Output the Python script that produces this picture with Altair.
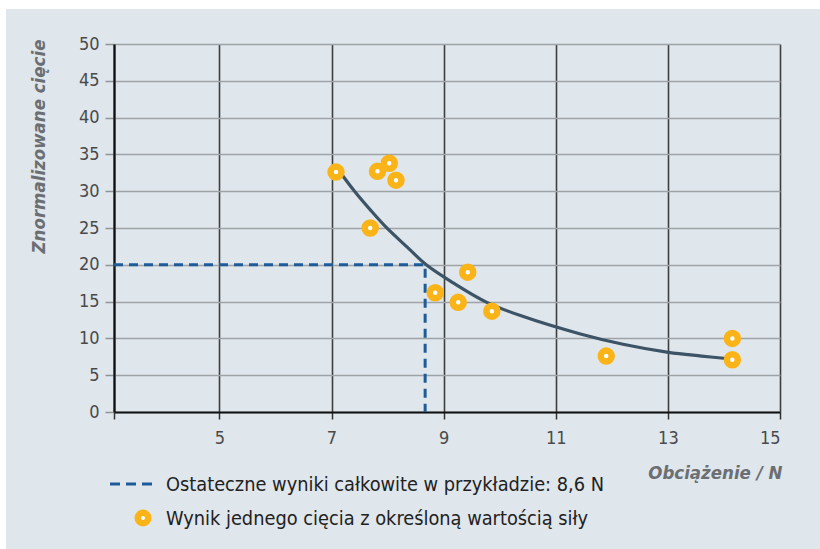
import altair as alt
import pandas as pd

# ---- data ----
curve_x = [7.18, 7.4, 7.7, 8.0, 8.35, 8.69, 9.18, 9.77, 10.37, 11.44, 12.2, 13.01, 13.6, 14.13]
curve_y = [32.3, 30.1, 27.4, 24.9, 22.4, 20.0, 17.5, 14.9, 13.1, 10.6, 9.2, 8.1, 7.6, 7.2]

pts_x = [7.08, 7.82, 8.03, 8.15, 7.69, 9.43, 8.85, 9.26, 9.86, 11.90, 14.15, 14.15]
pts_y = [32.6, 32.7, 33.8, 31.5, 25.0, 19.0, 16.2, 14.9, 13.7, 7.6, 10.0, 7.1]

X_MIN = 3.12
dash_x = [X_MIN, 8.67, 8.67]
dash_y = [20, 20, 0]

x_ticks = [X_MIN, 5, 7, 9, 11, 13, 15]
y_ticks = [0, 5, 10, 15, 20, 25, 30, 35, 40, 45, 50]

x_title = "Obciążenie / N"
y_title = "Znormalizowane cięcie"
legend_labels = ["Ostateczne wyniki całkowite w przykładzie: 8,6 N",
                 "Wynik jednego cięcia z określoną wartością siły"]

# ---- style ----
FONT = "'Liberation Sans Narrow', 'DejaVu Sans Condensed', sans-serif"
BG = "#dfe6ec"
ORANGE = "#fbb417"
CURVE = "#3d5366"
DASH = "#1d5c99"
W, H = 666, 368

curve_df = pd.DataFrame({"x": curve_x, "y": curve_y})
pts_df = pd.DataFrame({"x": pts_x, "y": pts_y})
dash_df = pd.DataFrame({"x": dash_x, "y": dash_y, "o": [0, 1, 2]})

xscale = alt.Scale(domain=[X_MIN, 15], nice=False, zero=False)
yscale = alt.Scale(domain=[0, 50], nice=False)

xaxis = alt.Axis(
    values=x_ticks, format="d", labelExpr="datum.value < 4 ? '' : datum.label",
    labelOverlap=False,
    title=x_title, titleAnchor="end", titleAlign="right",
    titleX=W + 2, titleY=60, titleBaseline="middle",
    titleFont=FONT, titleFontSize=18.5, titleFontStyle="italic", titleFontWeight="bold",
    titleColor="#6b6f73",
    labelFont=FONT, labelFontSize=18, labelColor="#4a4a4a", labelPadding=10,
    tickColor="#333333", tickSize=7, tickWidth=1.5,
    domainColor="#111111", domainWidth=2.2,
    grid=True, gridColor="#3f3f3f", gridWidth=1.6,
)
yaxis = alt.Axis(
    values=y_ticks, format="d", labelOverlap=False,
    title=y_title, titleAngle=270,
    titleX=-76, titleY=102, titleAlign="center", titleBaseline="middle",
    titleFont=FONT, titleFontSize=18.5, titleFontStyle="italic", titleFontWeight="bold",
    titleColor="#6b6f73",
    labelFont=FONT, labelFontSize=18, labelColor="#4a4a4a", labelPadding=6,
    tickColor="#8f9497", tickSize=9, tickWidth=1.5,
    domainColor="#111111", domainWidth=2.2,
    grid=True, gridColor="#9ea3a6", gridWidth=1.6,
)

X = alt.X("x:Q", scale=xscale, axis=xaxis)
Y = alt.Y("y:Q", scale=yscale, axis=yaxis)

dash_layer = alt.Chart(dash_df).mark_line(
    color=DASH, strokeWidth=3, strokeDash=[9, 6], interpolate="linear"
).encode(x=X, y=Y, order="o:O")

curve_layer = alt.Chart(curve_df).mark_line(
    color=CURVE, strokeWidth=3.2, interpolate="catmull-rom"
).encode(x=X, y=Y)

pts_layer = alt.Chart(pts_df).mark_point(
    shape="circle", filled=False, fill="white", fillOpacity=1,
    stroke=ORANGE, strokeWidth=6.5, size=120, opacity=1
).encode(x=X, y=Y)

# ---- legend (drawn below the plot) ----
leg_df = pd.DataFrame({"label": legend_labels, "row": [0, 1]})
leg_dash = alt.Chart(leg_df.iloc[[0]]).mark_rule(
    color=DASH, strokeWidth=3, strokeDash=[10, 6]
).encode(x=alt.value(-4), x2=alt.value(42), y=alt.value(440))
leg_dot = alt.Chart(leg_df.iloc[[1]]).mark_point(
    shape="circle", filled=False, fill="white", fillOpacity=1,
    stroke=ORANGE, strokeWidth=6.5, size=110, opacity=1
).encode(x=alt.value(29), y=alt.value(474))
leg_text0 = alt.Chart(leg_df.iloc[[0]]).mark_text(
    align="left", baseline="middle", font=FONT, fontSize=19.8, color="#222222"
).encode(x=alt.value(52), y=alt.value(441), text="label:N")
leg_text1 = alt.Chart(leg_df.iloc[[1]]).mark_text(
    align="left", baseline="middle", font=FONT, fontSize=19.8, color="#222222"
).encode(x=alt.value(52), y=alt.value(475), text="label:N")

# white page margins (top and left strips)
edge_top = alt.Chart(leg_df.iloc[[0]]).mark_rect(color="white").encode(
    x=alt.value(-114), x2=alt.value(820 - 114), y=alt.value(-44), y2=alt.value(-35))
edge_left = alt.Chart(leg_df.iloc[[0]]).mark_rect(color="white").encode(
    x=alt.value(-114), x2=alt.value(-108), y=alt.value(-44), y2=alt.value(549 - 44))

chart = alt.layer(
    dash_layer, curve_layer, pts_layer,
    leg_dash, leg_dot, leg_text0, leg_text1, edge_top, edge_left
).properties(
    width=W, height=H,
    autosize=alt.AutoSizeParams(type="none"),
    padding={"left": 114, "top": 44, "right": 820 - 114 - W, "bottom": 549 - 44 - H},
    background=BG,
).configure_view(stroke=None)

chart.save("out.html", embed_options={"renderer": "svg", "actions": False})
